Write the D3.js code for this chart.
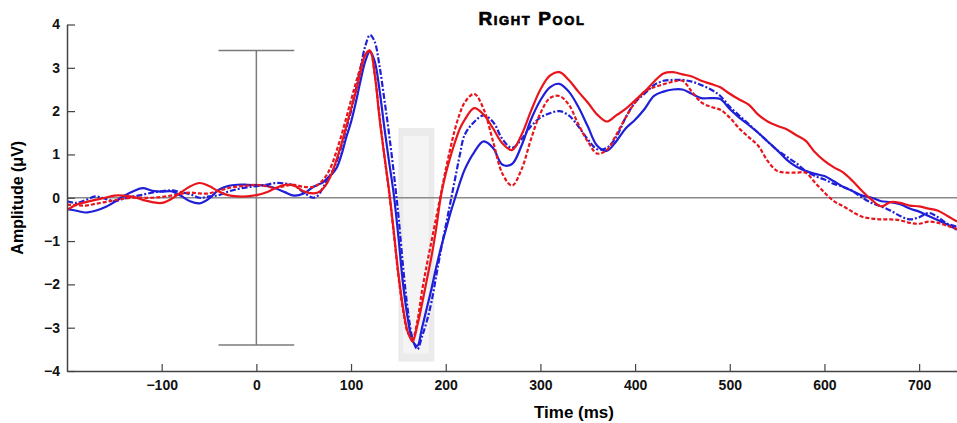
<!DOCTYPE html>
<html>
<head>
<meta charset="utf-8">
<script src="https://cdn.jsdelivr.net/npm/d3@7/dist/d3.min.js"></script>
<style>
  body { margin: 0; background: #fff; }
  svg { display: block; font-family: "Liberation Sans", Arial, sans-serif; }
</style>
</head>
<body>
<div id="chart"></div>
<script>
"use strict"

// sample times (ms)
const times = [
  -200,-190,-180,-170,-160,-150,-140,-130,-120,-110,-100,-90,-80,-70,-60,-50,-40,-30,-20,-10,0,10,20,30,40,50,60,
  65,70,75,80,85,90,95,100,105,110,115,120,125,130,135,140,145,150,155,160,165,170,175,180,185,190,195,200,205,210,215,220,
  230,240,250,260,270,280,290,300,310,320,330,340,350,360,370,380,390,400,410,420,430,440,450,460,470,480,490,500,
  510,520,530,540,550,560,570,580,590,600,610,620,630,640,650,660,670,680,690,700,710,720,730,740
];

const redSolid = [
  -0.28,-0.16,-0.1,-0.05,0,0.05,0.05,0.02,-0.05,-0.1,-0.12,-0.03,0.12,0.26,0.34,0.27,0.15,0.06,0.03,0.03,0.06,0.12,0.22,0.3,0.28,0.15,0.1,
  0.12,0.2,0.35,0.58,0.9,1.25,1.65,2.05,2.45,2.9,3.3,3.4,2.85,1.85,1.0,0.2,-0.75,-1.75,-2.55,-3.1,-3.32,-2.95,-2.45,-1.9,-1.35,-0.7,0.05,0.55,0.95,1.3,1.6,1.8,
  2.07,1.92,1.6,1.25,1.1,1.45,2.0,2.5,2.82,2.9,2.72,2.45,2.2,1.92,1.76,1.9,2.05,2.25,2.45,2.68,2.87,2.9,2.85,2.8,2.7,2.63,2.55,2.4,
  2.27,2.15,1.92,1.76,1.66,1.58,1.45,1.32,1.05,0.85,0.7,0.58,0.38,0.15,-0.05,-0.2,-0.1,-0.12,-0.18,-0.2,-0.25,-0.3,-0.42,-0.55
];

const redDashed = [
  -0.16,-0.17,-0.18,-0.14,-0.1,-0.06,-0.02,0,0,0,0.02,0.05,0.09,0.12,0.1,0.1,0.16,0.22,0.26,0.28,0.3,0.27,0.22,0.27,0.3,0.25,0.25,
  0.3,0.4,0.55,0.78,1.1,1.45,1.85,2.25,2.65,3.0,3.3,3.38,2.85,1.9,1.0,0.15,-0.8,-1.8,-2.6,-3.12,-3.25,-2.85,-2.15,-1.55,-1.0,-0.45,0.1,0.65,1.15,1.6,1.95,2.2,
  2.4,2.05,1.3,0.55,0.28,0.65,1.35,1.95,2.3,2.35,2.15,1.7,1.3,1.02,1.1,1.45,1.85,2.2,2.45,2.55,2.62,2.68,2.7,2.45,2.2,2.1,2.03,1.85,
  1.6,1.4,1.2,0.85,0.62,0.58,0.58,0.58,0.35,0.12,-0.08,-0.2,-0.33,-0.44,-0.48,-0.5,-0.5,-0.52,-0.58,-0.6,-0.55,-0.58,-0.65,-0.72
];

const blueSolid = [
  -0.26,-0.3,-0.34,-0.3,-0.22,-0.1,0.04,0.15,0.22,0.16,0.14,0.15,0.05,-0.08,-0.13,-0.02,0.18,0.27,0.3,0.3,0.29,0.28,0.22,0.13,0.05,0.1,0.25,
  0.3,0.35,0.45,0.55,0.7,1.0,1.4,1.75,2.2,2.7,3.15,3.38,3.15,2.5,1.65,0.85,0.1,-0.9,-2.0,-2.8,-3.3,-3.42,-3.0,-2.55,-2.1,-1.6,-1.15,-0.75,-0.35,0.0,0.35,0.65,
  1.05,1.3,1.15,0.76,0.78,1.2,1.8,2.25,2.55,2.63,2.45,2.1,1.65,1.2,1.08,1.3,1.6,1.8,2.05,2.35,2.45,2.5,2.5,2.4,2.3,2.3,2.28,2.05,
  1.85,1.68,1.5,1.3,1.1,0.88,0.72,0.62,0.55,0.5,0.38,0.25,0.15,0.05,0.0,-0.08,-0.1,-0.15,-0.25,-0.32,-0.42,-0.52,-0.62,-0.74
];

const blueDashDot = [
  -0.08,-0.12,-0.05,0.03,-0.02,-0.08,-0.02,0.03,0.07,0.12,0.15,0.17,0.13,0.08,0,0.03,0.06,0.14,0.2,0.24,0.27,0.3,0.34,0.33,0.28,0.12,0.0,
  0.05,0.22,0.42,0.6,0.85,1.2,1.6,2.0,2.5,3.0,3.5,3.76,3.6,3.05,2.3,1.5,0.6,-0.4,-1.6,-2.6,-3.25,-3.5,-3.2,-2.85,-2.4,-1.8,-1.2,-0.65,-0.1,0.45,1.0,1.45,
  1.75,1.9,1.75,1.35,1.15,1.35,1.65,1.85,1.95,2.0,1.9,1.65,1.35,1.12,1.15,1.4,1.85,2.2,2.4,2.6,2.7,2.72,2.72,2.68,2.6,2.5,2.35,2.1,
  1.9,1.7,1.5,1.3,1.1,0.95,0.8,0.62,0.5,0.42,0.32,0.25,0.15,0.0,-0.12,-0.2,-0.3,-0.42,-0.5,-0.45,-0.35,-0.45,-0.6,-0.67
];

const xTicks = [-100, 0, 100, 200, 300, 400, 500, 600, 700];
const yTicks = [-4, -3, -2, -1, 0, 1, 2, 3, 4];

// error bar at time 0 and the grey analysis window
const errorBar = { t: 0, high: 3.4, low: -3.4, half: 40 };
const windowOuter = { t0: 150, t1: 188, v0: -3.78, v1: 1.61 };
const windowInner = { t0: 155, t1: 182, v0: -3.6, v1: 1.43 };

const W = 957, H = 423;
let margin = { top: 24.5, right: 0, bottom: 52, left: 67 };

let svg = d3.select("#chart")
  .append("svg")
  .attr("width", W)
  .attr("height", H);

let x = d3.scaleLinear().domain([-200, 740]).range([margin.left, W - margin.right]);
let y = d3.scaleLinear().domain([-4, 4]).range([H - margin.bottom, margin.top]);

svg.append("clipPath").attr("id", "plot")
  .append("rect")
  .attr("x", margin.left).attr("y", 0)
  .attr("width", W - margin.left).attr("height", H - margin.bottom);

// grey window
svg.append("rect")
  .attr("x", x(windowOuter.t0)).attr("y", y(windowOuter.v1))
  .attr("width", x(windowOuter.t1) - x(windowOuter.t0))
  .attr("height", y(windowOuter.v0) - y(windowOuter.v1))
  .style("fill", "#ebebeb");
svg.append("rect")
  .attr("x", x(windowInner.t0)).attr("y", y(windowInner.v1))
  .attr("width", x(windowInner.t1) - x(windowInner.t0))
  .attr("height", y(windowInner.v0) - y(windowInner.v1))
  .style("fill", "#f4f4f4");

// zero line
svg.append("line")
  .attr("x1", x(-200)).attr("x2", x(740))
  .attr("y1", y(0)).attr("y2", y(0))
  .style("stroke", "#8a8a8a").style("stroke-width", 1.5);

// error bar
let eb = svg.append("g").style("stroke", "#7a7a7a").style("stroke-width", 1.5);
eb.append("line")
  .attr("x1", x(errorBar.t)).attr("x2", x(errorBar.t))
  .attr("y1", y(errorBar.high)).attr("y2", y(errorBar.low));
[errorBar.high, errorBar.low].forEach(function(v) {
  eb.append("line")
    .attr("x1", x(errorBar.t - errorBar.half)).attr("x2", x(errorBar.t + errorBar.half))
    .attr("y1", y(v)).attr("y2", y(v));
});

// waveforms
const series = [
  { values: blueDashDot, color: "#1f1fd8", dash: "6,2,2,2" },
  { values: blueSolid, color: "#1f1fd8", dash: null },
  { values: redDashed, color: "#e8161c", dash: "4,2" },
  { values: redSolid, color: "#e8161c", dash: null }
];

let line = d3.line()
  .x(function(d) { return x(d[0]); })
  .y(function(d) { return y(d[1]); })
  .curve(d3.curveCatmullRom.alpha(0.5));

let lines = svg.append("g").attr("clip-path", "url(#plot)");
series.forEach(function(s) {
  lines.append("path")
    .datum(times.map(function(t, i) { return [t, s.values[i]]; }))
    .attr("d", line)
    .style("fill", "none")
    .style("stroke", s.color)
    .style("stroke-width", 2.2)
    .style("stroke-dasharray", s.dash);
});

// axes
let xAxis = svg.append("g")
  .attr("transform", "translate(0," + y(-4) + ")")
  .call(d3.axisBottom(x).tickValues(xTicks).tickSizeInner(-7).tickSizeOuter(0).tickPadding(9));
let yAxis = svg.append("g")
  .attr("transform", "translate(" + margin.left + ",0)")
  .call(d3.axisLeft(y).tickValues(yTicks).tickSizeInner(-8).tickSizeOuter(0).tickPadding(7));

[xAxis, yAxis].forEach(function(a) {
  a.select(".domain").style("stroke", "#444").style("stroke-width", 1.5);
  a.selectAll(".tick line").style("stroke", "#444").style("stroke-width", 1.2);
  a.selectAll(".tick text")
    .style("font-family", "'Liberation Sans', Arial, sans-serif")
    .style("font-size", "14px")
    .style("font-weight", "bold")
    .style("fill", "#111");
});

// labels
svg.append("text")
  .attr("x", 532).attr("y", 25)
  .attr("text-anchor", "middle")
  .style("font-size", "19px")
  .style("font-weight", "bold")
  .style("font-variant", "small-caps")
  .style("letter-spacing", "1.6px")
  .style("stroke", "#000")
  .style("stroke-width", 0.7)
  .text("Right Pool");

svg.append("text")
  .attr("x", 574).attr("y", 418)
  .attr("text-anchor", "middle")
  .style("font-size", "17px")
  .style("font-weight", "bold")
  .text("Time (ms)");

svg.append("text")
  .attr("transform", "translate(23," + y(0) + ") rotate(-90)")
  .attr("text-anchor", "middle")
  .style("font-size", "16px")
  .style("font-weight", "bold")
  .text("Amplitude (\u03bcV)");
</script>
</body>
</html>
